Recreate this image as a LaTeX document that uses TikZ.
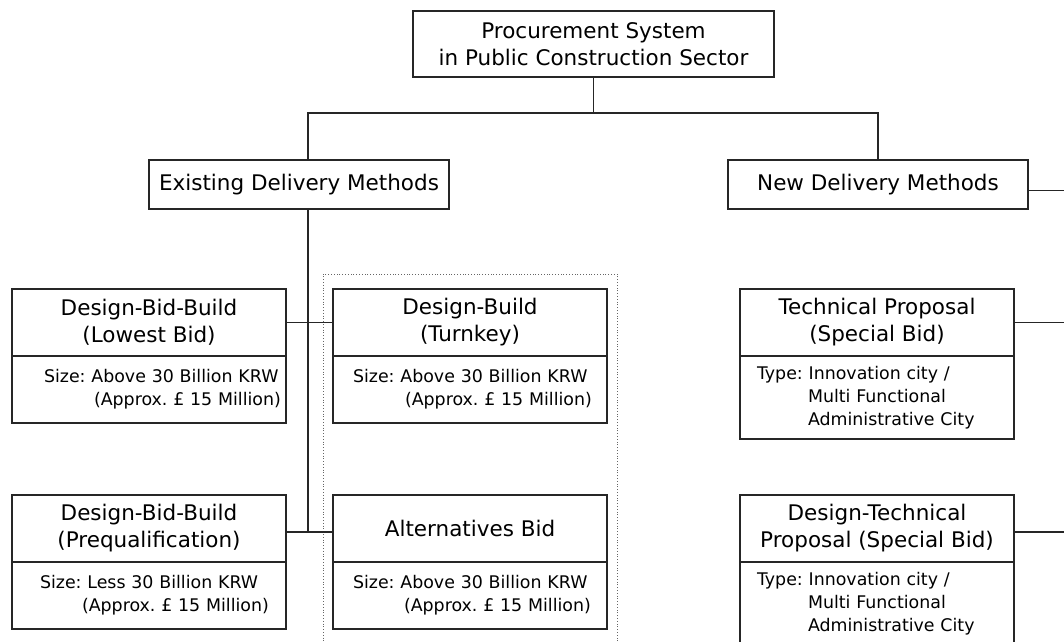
\documentclass[tikz,border=0pt]{standalone}
\usepackage{fontspec}
\setmainfont{DejaVu Sans}
\usepackage{tikz}
\usetikzlibrary{positioning}
\usetikzlibrary{fit}
\frenchspacing

\begin{document}
\begin{tikzpicture}[x=1pt,y=-1pt,line width=1.3pt,draw=black!85,
    box/.style={draw,fill=white,align=center,inner sep=0pt,outer sep=0pt,font=\fontsize{21.5}{27}\selectfont},
    head/.style={box,minimum width=274pt,minimum height=67pt},
    info/.style={draw,fill=white,outer sep=0pt,minimum width=274pt,minimum height=#1,text width=272pt,inner xsep=1pt,inner ysep=0pt,align=left,font=\fontsize{17.4}{23}\selectfont},
    group/.style={draw=black!60,dotted,line width=0.8pt,inner xsep=10pt,inner ysep=15pt}]
  \clip (0,0) rectangle (1064,641);
  \coordinate (trunk) at (308,0);
  \coordinate (edge) at (1064,0);

  \node[box,minimum width=361pt,minimum height=66pt] (proc) at (593.5,44) {Procurement System\\in Public Construction Sector};
  \node[box,minimum width=300pt,minimum height=49pt] (exist) at (299,184.5) {Existing Delivery Methods};
  \node[box,minimum width=300pt,minimum height=49pt] (new) at (878,184.5) {New Delivery Methods};

  % existing methods
  \node[head] (dbbLow) at (149,322.5) {Design-Bid-Build\\(Lowest Bid)};
  \node[info=67pt,below=0pt of dbbLow] (dbbLowInfo) {\hspace*{31pt}Size: Above 30 Billion KRW\\\hspace*{81pt}(Approx. £ 15 Million)};
  \node[head] (dbbPre) at (149,528.5) {Design-Bid-Build\\(Prequalification)};
  \node[info=67pt,below=0pt of dbbPre] (dbbPreInfo) {\hspace*{27pt}Size: Less 30 Billion KRW\\\hspace*{69pt}(Approx. £ 15 Million)};
  \node[head] (db) at (470,322.5) {Design-Build\\(Turnkey)};
  \node[info=67pt,below=0pt of db] (dbInfo) {\hspace*{19pt}Size: Above 30 Billion KRW\\\hspace*{71pt}(Approx. £ 15 Million)};
  \node[head] (alt) at (470,528.5) {Alternatives Bid};
  \node[info=67pt,below=0pt of alt] (altInfo) {\hspace*{19pt}Size: Above 30 Billion KRW\\\hspace*{70pt}(Approx. £ 15 Million)};
  \node[group,fit=(db)(altInfo)] (altGroup) {};

  % new methods
  \node[head] (tp) at (877,322.5) {Technical Proposal\\(Special Bid)};
  \node[info=83pt,below=0pt of tp] (tpInfo) {\hspace*{16pt}Type: Innovation city /\\\hspace*{67pt}Multi Functional\\\hspace*{67pt}Administrative City};
  \node[head] (dtp) at (877,528.5) {Design-Technical\\Proposal (Special Bid)};
  \node[info=83pt,below=0pt of dtp] (dtpInfo) {\hspace*{16pt}Type: Innovation city /\\\hspace*{67pt}Multi Functional\\\hspace*{67pt}Administrative City};

  \draw (proc.south) -- ++(0,36) coordinate (split);
  \draw (exist.north -| trunk) |- (split) -| (new.north);
  \draw (exist.south -| trunk) |- ([yshift=-3.5pt]dbbPre.east);
  \draw (dbbLow.east) -- (db.west);
  \draw ([yshift=-3.5pt]dbbPre.east) -- ([yshift=-3.5pt]alt.west);
  \draw ([yshift=-6pt]new.east) -- ([yshift=-6pt]new.east -| edge);
  \draw (tp.east) -- (tp.east -| edge);
  \draw ([yshift=-3.5pt]dtp.east) -- ([yshift=-3.5pt]dtp.east -| edge);
\end{tikzpicture}
\end{document}
